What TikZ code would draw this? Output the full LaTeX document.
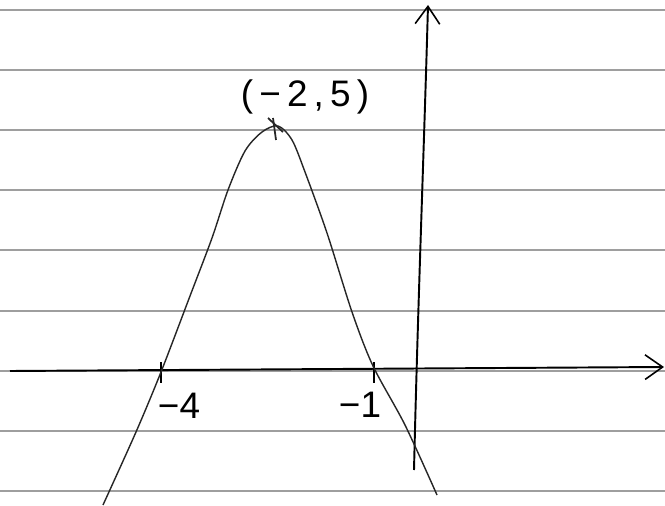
\documentclass[tikz,border=0pt]{standalone}
\usepackage{fontspec}
\setmainfont{Liberation Sans}
\usetikzlibrary{arrows.meta}
\begin{document}
\begin{tikzpicture}[x=0.02cm,y=-0.02cm,
  ruled/.style={draw=black!38,line width=0.6pt},
  axisline/.style={draw=black,line width=1.1pt,-{Straight Barb[length=10pt,width=14pt,line width=0.9pt]}},
  curveline/.style={draw=black!85,line width=0.8pt},
  tickmark/.style={draw=black,line width=1.3pt},
  lbl/.style={font=\fontsize{21}{23}\selectfont,inner sep=0pt}]
\useasboundingbox (0,0) rectangle (665,506);
\fill[white] (0,0) rectangle (665,506);
% ruled paper lines
\foreach \yy in {10,70,130,190,250,311,371,431,491}
  \draw[ruled] (0,\yy) -- (665,\yy);
% axes
\coordinate (xs) at (10,371);
\coordinate (xe) at (664,367);
\coordinate (ys) at (414,470);
\coordinate (ye) at (428,5);
\draw[axisline] (xs) -- (xe);
\draw[axisline] (ys) .. controls (418,300) and (424,150) .. (ye);
% ticks
\coordinate (t4a) at (161,362);
\coordinate (t4b) at (161,383);
\coordinate (t1a) at (374,362);
\coordinate (t1b) at (374,383);
\draw[tickmark] (t4a) -- (t4b);
\draw[tickmark] (t1a) -- (t1b);
% parabola sketch
\draw[curveline] plot[smooth,tension=0.5] coordinates {
 (103,505) (136,432) (161,372) (190,296) (212,238) (228,190)
 (245,151) (262,132) (278,126) (292,140) (305,172) (327,233)
 (352,312) (373,366) (405,425) (437,495)};
% vertex mark
\coordinate (v1) at (268,118);
\coordinate (v2) at (283,132);
\coordinate (v3) at (276,140);
\coordinate (v4) at (273,118);
\draw[curveline,line width=1pt] (v1) -- (v2);
\draw[curveline,line width=1pt] (v4) -- (v3);
% labels
\node[lbl] (lv) at (305,97) {(\,−\,2\,,\,5\,)};
\node[lbl] (l4) at (179,406) {−4};
\node[lbl] (l1) at (360,405) {−1};
\end{tikzpicture}
\end{document}
